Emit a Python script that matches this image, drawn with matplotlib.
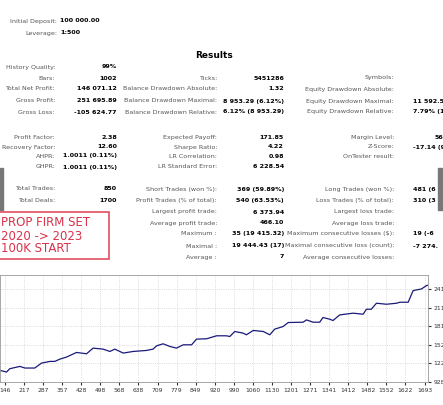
import matplotlib.pyplot as plt
from matplotlib.patches import Rectangle

W, H = 443, 405

# equity curve (trade number, balance)
trades = [128, 152, 164, 201, 220, 256, 281, 312, 330, 349, 373, 410, 447, 471, 508, 533, 551,
          582, 619, 668, 692, 705, 729, 754, 778, 803, 834, 852, 889, 926, 962, 975, 993, 1024,
          1036, 1061, 1098, 1122, 1140, 1171, 1190, 1245, 1257, 1282, 1306, 1318, 1343, 1355,
          1380, 1429, 1466, 1478, 1496, 1515, 1552, 1589, 1601, 1632, 1650, 1662, 1681, 1699, 1711]
balance = [111400, 108700, 114000, 117700, 115100, 115100, 123000, 125700, 125700, 129400,
           132600, 140000, 137900, 146900, 145300, 141600, 145300, 139000, 141600, 143200,
           145300, 150600, 153800, 149600, 146900, 152200, 152200, 161300, 161800, 166600,
           166600, 165500, 173500, 170800, 168200, 175100, 173500, 168200, 177200, 181400,
           187800, 188300, 192000, 188300, 188300, 195800, 193100, 191000, 200000, 202700,
           201100, 209000, 209000, 218600, 217000, 218600, 220200, 220200, 238700, 239800,
           241400, 246700, 248300]
xticks = [146, 217, 287, 357, 428, 498, 568, 638, 709, 779, 849, 920, 990, 1060, 1130,
          1201, 1271, 1341, 1412, 1482, 1552, 1622, 1693]
yticks = [92800, 122400, 152100, 181500, 211400, 241400]

top_rows = [("Initial Deposit:", "100 000.00", 21), ("Leverage:", "1:500", 33)]
col1 = [("History Quality:", "99%", 67), ("Bars:", "1002", 78), ("Total Net Profit:", "146 071.12", 89),
        ("Gross Profit:", "251 695.89", 101), ("Gross Loss:", "-105 624.77", 112),
        ("Profit Factor:", "2.38", 137), ("Recovery Factor:", "12.60", 147),
        ("AHPR:", "1.0011 (0.11%)", 156), ("GHPR:", "1.0011 (0.11%)", 167),
        ("Total Trades:", "850", 189), ("Total Deals:", "1700", 201)]
col2 = [("Ticks:", "5451286", 78), ("Balance Drawdown Absolute:", "1.32", 89),
        ("Balance Drawdown Maximal:", "8 953.29 (6.12%)", 101),
        ("Balance Drawdown Relative:", "6.12% (8 953.29)", 112),
        ("Expected Payoff:", "171.85", 137), ("Sharpe Ratio:", "4.22", 147),
        ("LR Correlation:", "0.98", 156), ("LR Standard Error:", "6 228.54", 167),
        ("Short Trades (won %):", "369 (59.89%)", 189), ("Profit Trades (% of total):", "540 (63.53%)", 201),
        ("Largest profit trade:", "6 373.94", 212), ("Average profit trade:", "466.10", 223),
        ("Maximum :", "35 (19 415.32)", 234), ("Maximal :", "19 444.43 (17)", 246),
        ("Average :", "7", 257)]
col3 = [("Symbols:", "", 78), ("Equity Drawdown Absolute:", "", 89),
        ("Equity Drawdown Maximal:", "11 592.53 (", 101), ("Equity Drawdown Relative:", "7.79% (11 5", 112),
        ("Margin Level:", "", 137), ("Z-Score:", "-17.14 (9", 147), ("OnTester result:", "", 156),
        ("Long Trades (won %):", "481 (6", 189), ("Loss Trades (% of total):", "310 (3", 201),
        ("Largest loss trade:", "", 212), ("Average loss trade:", "", 223),
        ("Maximum consecutive losses ($):", "19 (-6", 234),
        ("Maximal consecutive loss (count):", "-7 274.", 246), ("Average consecutive losses:", "", 257)]

fig = plt.figure(figsize=(W / 100, H / 100), dpi=100)
fig.patch.set_facecolor('white')


def px(x, y):
    return x / W, 1 - y / H


fs = 4.6
lab_c = '#555555'
for lab, val, y in top_rows:
    fig.text(*px(57, y), lab, ha='right', va='center', fontsize=fs, color=lab_c)
    fig.text(*px(60, y), val, ha='left', va='center', fontsize=fs, fontweight='bold')
fig.text(*px(214, 55), "Results", ha='center', va='center', fontsize=6.5, fontweight='bold')
for lab, val, y in col1:
    fig.text(*px(55, y), lab, ha='right', va='center', fontsize=fs, color=lab_c)
    fig.text(*px(117, y), val, ha='right', va='center', fontsize=fs, fontweight='bold')
for lab, val, y in col2:
    fig.text(*px(217, y), lab, ha='right', va='center', fontsize=fs, color=lab_c)
    fig.text(*px(284, y), val, ha='right', va='center', fontsize=fs, fontweight='bold')
for lab, val, y in col3:
    fig.text(*px(394, y), lab, ha='right', va='center', fontsize=fs, color=lab_c)
    fig.text(*px(413, y), val, ha='left', va='center', fontsize=fs, fontweight='bold')
fig.text(*px(443, 137), "56", ha='right', va='center', fontsize=fs, fontweight='bold')

# side bars and red note box
fig.patches.append(Rectangle(px(0, 210), 3 / W, 42 / H, transform=fig.transFigure, color='#777777'))
fig.patches.append(Rectangle(px(438, 210), 5 / W, 42 / H, transform=fig.transFigure, color='#777777'))
fig.patches.append(Rectangle(px(-2, 259), 111 / W, 47 / H, transform=fig.transFigure,
                             fill=False, edgecolor='#e05060', linewidth=1.2))
for txt, y in [("PROP FIRM SET", 222), ("2020 -> 2023", 236), ("100K START", 249)]:
    fig.text(*px(1, y), txt, ha='left', va='center', fontsize=8.5, color='#d8324a')

# equity chart
x0, y0 = px(0, 382)
ax = fig.add_axes([x0, y0, 428 / W, 107 / H])
ax.plot(trades, balance, color='#1a1a7a', linewidth=0.9)
ax.set_xlim(128, 1705)
ax.set_ylim(92800, 263700)
ax.set_xticks(xticks)
ax.set_yticks(yticks)
ax.grid(True, color='#d0d0d0', linestyle=':', linewidth=0.6)
ax.yaxis.tick_right()
ax.tick_params(labelsize=4.3, colors='#333333', length=2, pad=2)
ax.set_xticklabels([str(t) for t in xticks])
ax.set_yticklabels([str(v) for v in yticks])
for s in ax.spines.values():
    s.set_color('#999999')
    s.set_linewidth(0.6)

fig.savefig('out.png', dpi=100, facecolor='white')
